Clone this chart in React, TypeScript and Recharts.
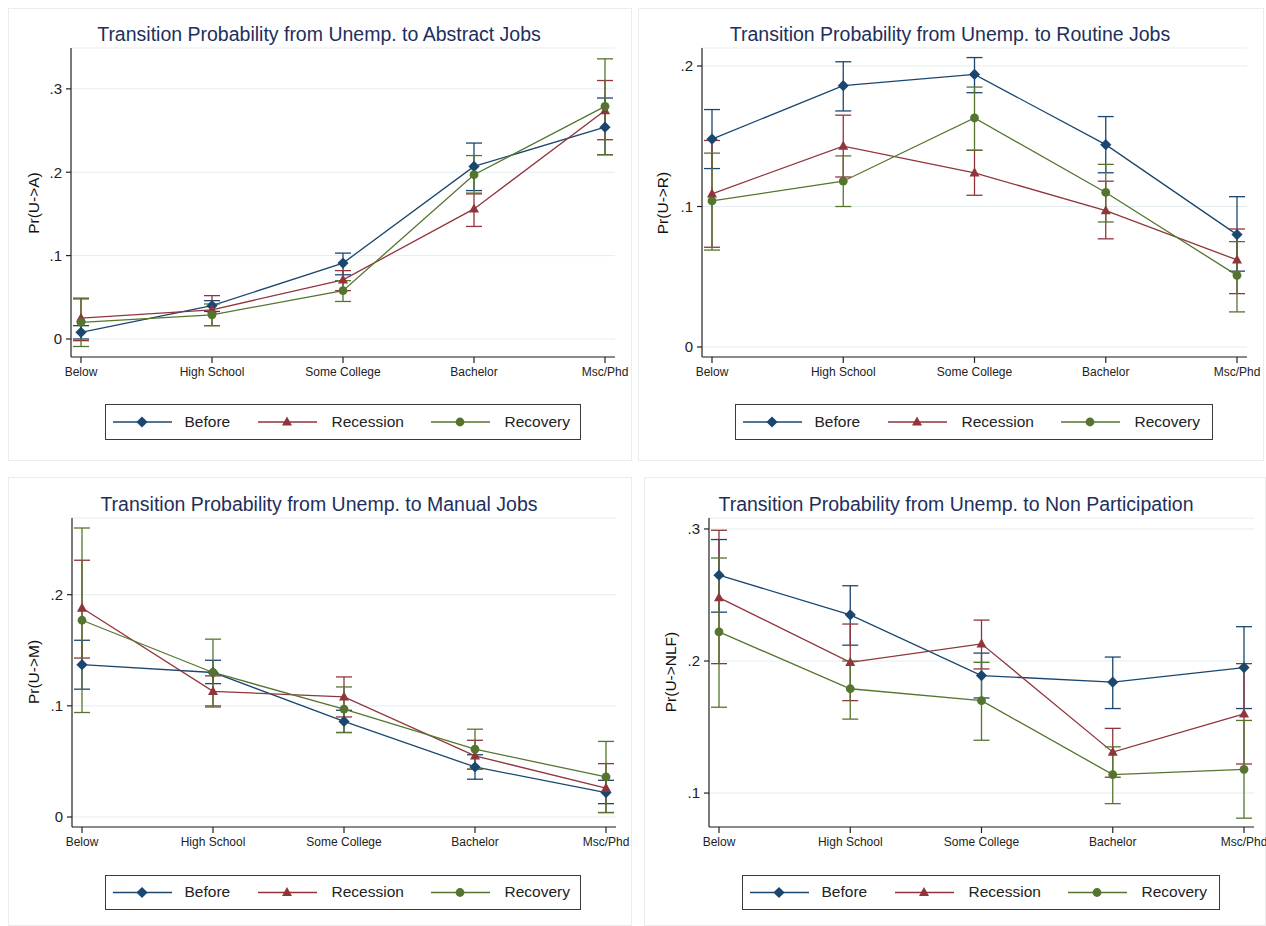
import React from "react";
import { LineChart, Line, XAxis, YAxis, CartesianGrid, ErrorBar } from "recharts";

const categories = ["Below", "High School", "Some College", "Bachelor", "Msc/Phd"];

// Unemp. -> Abstract
const abstractBefore = [0.008, 0.040, 0.091, 0.207, 0.254];
const abstractBeforeLo = [0.000, 0.033, 0.077, 0.178, 0.221];
const abstractBeforeHi = [0.016, 0.046, 0.103, 0.235, 0.289];
const abstractRecession = [0.025, 0.035, 0.071, 0.156, 0.274];
const abstractRecessionLo = [-0.002, 0.016, 0.058, 0.135, 0.239];
const abstractRecessionHi = [0.049, 0.052, 0.082, 0.174, 0.310];
const abstractRecovery = [0.020, 0.029, 0.058, 0.197, 0.279];
const abstractRecoveryLo = [-0.009, 0.016, 0.045, 0.175, 0.221];
const abstractRecoveryHi = [0.048, 0.042, 0.070, 0.220, 0.336];

// Unemp. -> Routine
const routineBefore = [0.148, 0.186, 0.194, 0.144, 0.080];
const routineBeforeLo = [0.127, 0.168, 0.181, 0.124, 0.054];
const routineBeforeHi = [0.169, 0.203, 0.206, 0.164, 0.107];
const routineRecession = [0.109, 0.143, 0.124, 0.097, 0.062];
const routineRecessionLo = [0.071, 0.121, 0.108, 0.077, 0.038];
const routineRecessionHi = [0.147, 0.165, 0.140, 0.118, 0.084];
const routineRecovery = [0.104, 0.118, 0.163, 0.110, 0.051];
const routineRecoveryLo = [0.069, 0.100, 0.140, 0.089, 0.025];
const routineRecoveryHi = [0.138, 0.136, 0.185, 0.130, 0.075];

// Unemp. -> Manual
const manualBefore = [0.137, 0.130, 0.086, 0.045, 0.022];
const manualBeforeLo = [0.115, 0.120, 0.076, 0.034, 0.012];
const manualBeforeHi = [0.159, 0.141, 0.096, 0.056, 0.033];
const manualRecession = [0.188, 0.113, 0.108, 0.055, 0.026];
const manualRecessionLo = [0.143, 0.099, 0.090, 0.043, 0.004];
const manualRecessionHi = [0.231, 0.127, 0.126, 0.069, 0.048];
const manualRecovery = [0.177, 0.130, 0.097, 0.061, 0.036];
const manualRecoveryLo = [0.094, 0.100, 0.076, 0.043, 0.004];
const manualRecoveryHi = [0.260, 0.160, 0.117, 0.079, 0.068];

// Unemp. -> Non participation
const nlfBefore = [0.265, 0.235, 0.189, 0.184, 0.195];
const nlfBeforeLo = [0.237, 0.212, 0.172, 0.164, 0.164];
const nlfBeforeHi = [0.292, 0.257, 0.206, 0.203, 0.226];
const nlfRecession = [0.248, 0.199, 0.213, 0.131, 0.160];
const nlfRecessionLo = [0.198, 0.170, 0.194, 0.112, 0.122];
const nlfRecessionHi = [0.299, 0.228, 0.231, 0.149, 0.198];
const nlfRecovery = [0.222, 0.179, 0.170, 0.114, 0.118];
const nlfRecoveryLo = [0.165, 0.156, 0.140, 0.092, 0.081];
const nlfRecoveryHi = [0.278, 0.200, 0.199, 0.135, 0.155];

const BLUE = "#1a476f";
const RED = "#90353b";
const GREEN = "#55752f";
const FONT = '"Liberation Sans", Arial, Helvetica, sans-serif';

type Kind = "diamond" | "triangle" | "circle";

function buildRows(
  b: number[], bl: number[], bh: number[],
  r: number[], rl: number[], rh: number[],
  g: number[], gl: number[], gh: number[]
) {
  return categories.map((cat, i) => ({
    cat,
    before: b[i],
    beforeErr: [b[i] - bl[i], bh[i] - b[i]],
    recession: r[i],
    recessionErr: [r[i] - rl[i], rh[i] - r[i]],
    recovery: g[i],
    recoveryErr: [g[i] - gl[i], gh[i] - g[i]],
  }));
}

function marker(kind: Kind, cx: number, cy: number, color: string, key?: string) {
  if (kind === "diamond") {
    const s = 5.6;
    return <polygon key={key} points={`${cx},${cy - s} ${cx + s},${cy} ${cx},${cy + s} ${cx - s},${cy}`} fill={color} />;
  }
  if (kind === "triangle") {
    return <polygon key={key} points={`${cx},${cy - 5.5} ${cx + 5},${cy + 3.6} ${cx - 5},${cy + 3.6}`} fill={color} />;
  }
  return <circle key={key} cx={cx} cy={cy} r={4.4} fill={color} />;
}

const seriesDefs: { key: string; label: string; color: string; kind: Kind }[] = [
  { key: "before", label: "Before", color: BLUE, kind: "diamond" },
  { key: "recession", label: "Recession", color: RED, kind: "triangle" },
  { key: "recovery", label: "Recovery", color: GREEN, kind: "circle" },
];

interface PanelCfg {
  title: string;
  ylabel: string;
  rows: ReturnType<typeof buildRows>;
  domain: [number, number];
  ticks: number[];
  box: { x: number; y: number; w: number; h: number };
  plot: { l: number; t: number; r: number; b: number };
  titleAt: { x: number; y: number };
  ylabelAt: { x: number; y: number };
  legend: { x: number; y: number; w: number; h: number };
}

const panels: PanelCfg[] = [
  {
    title: "Transition Probability from Unemp. to Abstract Jobs",
    ylabel: "Pr(U->A)",
    rows: buildRows(abstractBefore, abstractBeforeLo, abstractBeforeHi, abstractRecession, abstractRecessionLo, abstractRecessionHi, abstractRecovery, abstractRecoveryLo, abstractRecoveryHi),
    domain: [-0.0216, 0.349],
    ticks: [0, 0.1, 0.2, 0.3],
    box: { x: 8, y: 8, w: 624, h: 453 },
    plot: { l: 71, t: 48, r: 615, b: 357 },
    titleAt: { x: 319, y: 34 },
    ylabelAt: { x: 34, y: 203 },
    legend: { x: 105, y: 404, w: 476, h: 36 },
  },
  {
    title: "Transition Probability from Unemp. to Routine Jobs",
    ylabel: "Pr(U->R)",
    rows: buildRows(routineBefore, routineBeforeLo, routineBeforeHi, routineRecession, routineRecessionLo, routineRecessionHi, routineRecovery, routineRecoveryLo, routineRecoveryHi),
    domain: [-0.0071, 0.2128],
    ticks: [0, 0.1, 0.2],
    box: { x: 638, y: 8, w: 626, h: 453 },
    plot: { l: 702, t: 48, r: 1247, b: 357 },
    titleAt: { x: 950, y: 34 },
    ylabelAt: { x: 663, y: 203 },
    legend: { x: 735, y: 404, w: 478, h: 36 },
  },
  {
    title: "Transition Probability from Unemp. to Manual Jobs",
    ylabel: "Pr(U->M)",
    rows: buildRows(manualBefore, manualBeforeLo, manualBeforeHi, manualRecession, manualRecessionLo, manualRecessionHi, manualRecovery, manualRecoveryLo, manualRecoveryHi),
    domain: [-0.009, 0.269],
    ticks: [0, 0.1, 0.2],
    box: { x: 8, y: 477, w: 624, h: 449 },
    plot: { l: 72, t: 518, r: 616, b: 827 },
    titleAt: { x: 319, y: 504 },
    ylabelAt: { x: 34, y: 672 },
    legend: { x: 105, y: 875, w: 476, h: 35 },
  },
  {
    title: "Transition Probability from Unemp. to Non Participation",
    ylabel: "Pr(U->NLF)",
    rows: buildRows(nlfBefore, nlfBeforeLo, nlfBeforeHi, nlfRecession, nlfRecessionLo, nlfRecessionHi, nlfRecovery, nlfRecoveryLo, nlfRecoveryHi),
    domain: [0.0743, 0.3083],
    ticks: [0.1, 0.2, 0.3],
    box: { x: 644, y: 477, w: 622, h: 449 },
    plot: { l: 709, t: 518, r: 1254, b: 827 },
    titleAt: { x: 956, y: 504 },
    ylabelAt: { x: 671, y: 672 },
    legend: { x: 742, y: 875, w: 478, h: 35 },
  },
];

const yFmt = (v: number) => (v === 0 ? "0" : String(v).replace(/^0/, ""));

function Legend({ at }: { at: PanelCfg["legend"] }) {
  const lineStarts = [8, 153, 326];
  const textStarts = [80, 227, 400];
  return (
    <div
      style={{
        position: "absolute",
        left: at.x,
        top: at.y,
        width: at.w,
        height: at.h,
        boxSizing: "border-box",
        border: "1.5px solid #3a3a3a",
        background: "#fff",
      }}
    >
      <svg width={at.w} height={at.h} style={{ position: "absolute", left: -1.5, top: -1.5 }}>
        {seriesDefs.map((s, i) => (
          <g key={s.key}>
            <line x1={lineStarts[i]} x2={lineStarts[i] + 59} y1={at.h / 2} y2={at.h / 2} stroke={s.color} strokeWidth={1.3} />
            {marker(s.kind, lineStarts[i] + 29, at.h / 2, s.color)}
          </g>
        ))}
      </svg>
      {seriesDefs.map((s, i) => (
        <span
          key={s.key}
          style={{
            position: "absolute",
            left: textStarts[i] - 1.5,
            top: 0,
            lineHeight: `${at.h - 3}px`,
            fontSize: 15.5,
            color: "#222",
            whiteSpace: "nowrap",
          }}
        >
          {s.label}
        </span>
      ))}
    </div>
  );
}

function Panel({ cfg }: { cfg: PanelCfg }) {
  const { box, plot } = cfg;
  const yAxisW = 40;
  const xAxisH = 30;
  const margin = {
    top: plot.t - box.y,
    right: box.x + box.w - plot.r,
    left: plot.l - box.x - yAxisW,
    bottom: box.y + box.h - plot.b - xAxisH,
  };
  return (
    <>
      <div
        style={{
          position: "absolute",
          left: box.x,
          top: box.y,
          width: box.w,
          height: box.h,
          boxSizing: "border-box",
          border: "1px solid #ececec",
        }}
      />
      <div style={{ position: "absolute", left: box.x, top: box.y }}>
        <LineChart width={box.w} height={box.h} data={cfg.rows} margin={margin}>
          <CartesianGrid vertical={false} stroke="#e3edee" strokeWidth={1} />
          <XAxis
            dataKey="cat"
            type="category"
            interval={0}
            height={xAxisH}
            padding={{ left: 10, right: 10 }}
            axisLine={{ stroke: "#222", strokeWidth: 1.2 }}
            tickLine={{ stroke: "#222", strokeWidth: 1.2 }}
            tickSize={6}
            tickMargin={4}
            tick={{ fontSize: 12, fill: "#222", fontFamily: FONT }}
          />
          <YAxis
            type="number"
            width={yAxisW}
            domain={cfg.domain}
            ticks={cfg.ticks}
            allowDataOverflow
            tickFormatter={yFmt}
            axisLine={{ stroke: "#222", strokeWidth: 1.2 }}
            tickLine={{ stroke: "#222", strokeWidth: 1.2 }}
            tickSize={5}
            tickMargin={4}
            tick={{ fontSize: 15, fill: "#222", fontFamily: FONT }}
          />
          {seriesDefs.map((s) => (
            <Line
              key={s.key}
              dataKey={s.key}
              type="linear"
              stroke={s.color}
              strokeWidth={1.3}
              isAnimationActive={false}
              activeDot={false}
              dot={(p: any) => marker(s.kind, p.cx, p.cy, s.color, `${s.key}-${p.index}`)}
            >
              <ErrorBar dataKey={`${s.key}Err`} direction="y" width={8} stroke={s.color} strokeWidth={1.3} isAnimationActive={false} />
            </Line>
          ))}
        </LineChart>
      </div>
      <div
        style={{
          position: "absolute",
          left: cfg.titleAt.x - 320,
          top: cfg.titleAt.y - 12,
          width: 640,
          lineHeight: "24px",
          textAlign: "center",
          fontSize: 19.5,
          color: "#1e2f5c",
          whiteSpace: "nowrap",
        }}
      >
        {cfg.title}
      </div>
      <div
        style={{
          position: "absolute",
          left: cfg.ylabelAt.x,
          top: cfg.ylabelAt.y,
          transform: "translate(-50%, -50%) rotate(-90deg)",
          fontSize: 15.5,
          color: "#111",
          whiteSpace: "nowrap",
        }}
      >
        {cfg.ylabel}
      </div>
      <Legend at={cfg.legend} />
    </>
  );
}

export default function App() {
  return (
    <div
      style={{
        position: "absolute",
        left: 0,
        top: 0,
        width: 1266,
        height: 926,
        background: "#fff",
        fontFamily: FONT,
        overflow: "hidden",
      }}
    >
      {panels.map((p) => (
        <Panel key={p.title} cfg={p} />
      ))}
    </div>
  );
}
